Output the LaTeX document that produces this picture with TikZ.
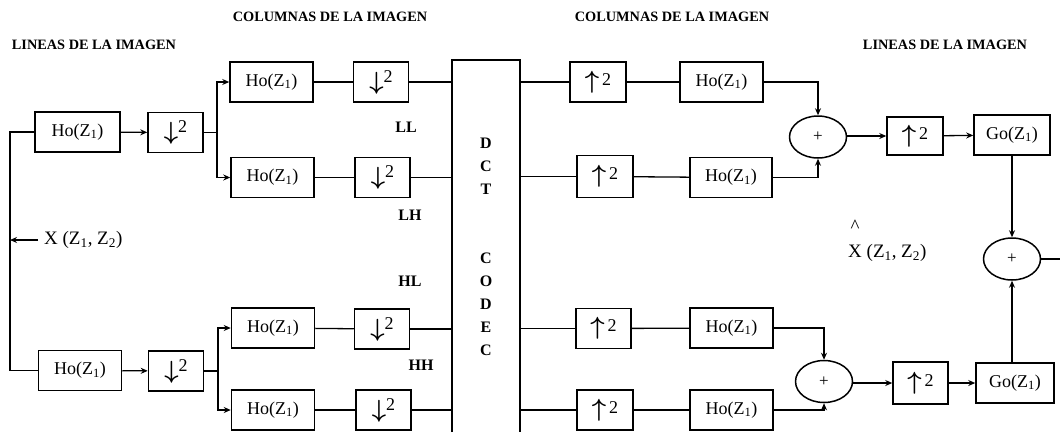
\documentclass[tikz,border=0pt]{standalone}
\usepackage{fontspec}
\setmainfont{Liberation Serif}
\usetikzlibrary{arrows.meta,shapes.geometric}
\newcommand\mydn{{\fontsize{26}{26}\selectfont\boldmath$\downarrow$}\raisebox{7pt}{2}}
\newcommand\myup{{\fontsize{26}{26}\selectfont\boldmath$\uparrow$}\,\raisebox{3pt}{2}}
\newcommand\hoz{Ho(Z\textsubscript{1})}
\newcommand\goz{Go(Z\textsubscript{1})}
\begin{document}
\begin{tikzpicture}[x=1pt,y=-1pt,
  >={Stealth[length=7pt,width=6pt]},
  blk/.style={draw,line width=1.5pt,minimum height=40pt,inner sep=0pt,
    font=\fontsize{18}{18}\selectfont},
  hob/.style={blk,minimum width=83pt},
  rsb/.style={blk,minimum width=55pt},
  sumc/.style={draw,ellipse,line width=1.5pt,minimum width=57pt,minimum height=42pt,
    inner sep=0pt,font=\fontsize{17}{17}\selectfont},
  conn/.style={line width=1.3pt},
  ttl/.style={font=\fontsize{14.3}{14.3}\selectfont\bfseries,inner sep=0pt},
  band/.style={font=\fontsize{16}{16}\selectfont\bfseries,inner sep=0pt},
  dctl/.style={font=\fontsize{16}{23}\selectfont\bfseries,align=center,inner sep=0pt},
  lbl/.style={font=\fontsize{19}{19}\selectfont,inner sep=0pt}
]
\path[use as bounding box] (0,0) rectangle (1060,432);

% titles
\node[ttl] (t1) at (94,45) {LINEAS DE LA IMAGEN};
\node[ttl] (t2) at (330,17) {COLUMNAS DE LA IMAGEN};
\node[ttl] (t3) at (672,17) {COLUMNAS DE LA IMAGEN};
\node[ttl] (t4) at (945,45) {LINEAS DE LA IMAGEN};

% left analysis: line filters
\node[hob,minimum width=85pt] (hoA) at (77.5,132) {\hoz};
\node[rsb] (dA) at (175.5,132.5) {\mydn};
\node[hob] (hoB) at (80,370.5) {\hoz};
\node[rsb] (dB) at (176,371) {\mydn};

\coordinate (lt) at (10,132);
\coordinate (lb) at (10,370.5);
\draw[conn] (hoA.west) -- (lt) -- (lb) -- (hoB.west);
\coordinate (xs) at (38,240);
\coordinate (xe) at (10,240);
\draw[conn,->] (xs) -- (xe);
\node[lbl,anchor=west] (xin) at (44,240) {X (Z\textsubscript{1}, Z\textsubscript{2})};

\draw[conn,->] (hoA) -- (dA);
\draw[conn,->] (hoB) -- (dB);

% column filters
\node[hob] (hoC) at (271.5,82) {\hoz};
\node[hob] (hoD) at (272.5,177.5) {\hoz};
\node[hob] (hoE) at (273,328) {\hoz};
\node[hob] (hoF) at (273,410) {\hoz};
\node[rsb] (dC) at (381,82) {\mydn};
\node[rsb] (dD) at (382.5,177.5) {\mydn};
\node[rsb] (dE) at (382,329) {\mydn};
\node[rsb] (dF) at (383.5,410) {\mydn};

\coordinate (bA) at (217,132.5);
\coordinate (bB) at (218,371);
\draw[conn] (dA.east) -- (bA);
\draw[conn,->] (bA) |- (hoC.west);
\draw[conn,->] (bA) |- (hoD.west);
\draw[conn] (dB.east) -- (bB);
\draw[conn,->] (bB) |- (hoE.west);
\draw[conn,->] (bB) |- (hoF.west);
\draw[conn] (hoC) -- (dC);
\draw[conn] (hoD) -- (dD);
\draw[conn] (hoE) -- (dE);
\draw[conn] (hoF) -- (dF);

% DCT codec
\node[minimum width=68pt,minimum height=372pt,inner sep=0pt] (dct) at (486,246) {};
\draw[line width=1.6pt] (dct.south west) -- (dct.north west) -- (dct.north east) -- (dct.south east);
\node[dctl] (dctt) at (486,166) {D\\C\\T};
\node[dctl] (codec) at (486,304) {C\\O\\D\\E\\C};

\draw[conn] (dC.east) -- (dC.east -| dct.west);
\draw[conn] (dD.east) -- (dD.east -| dct.west);
\draw[conn] (dE.east) -- (dE.east -| dct.west);
\draw[conn] (dF.east) -- (dF.east -| dct.west);

% band labels
\node[band] (ll) at (406,127) {LL};
\node[band] (lh) at (410,215) {LH};
\node[band] (hl) at (410,281) {HL};
\node[band] (hh) at (421,365) {HH};

% synthesis
\node[rsb,minimum width=56pt] (uA) at (598,82) {\myup};
\node[rsb,minimum width=56pt,minimum height=42pt] (uB) at (605,176.5) {\myup};
\node[rsb] (uC) at (603.5,328.5) {\myup};
\node[rsb,minimum width=56pt] (uD) at (605,410) {\myup};
\node[hob] (hoG) at (721.5,82) {\hoz};
\node[hob,minimum width=82pt] (hoH) at (731,177.5) {\hoz};
\node[hob] (hoI) at (731.5,328) {\hoz};
\node[hob] (hoJ) at (731.5,410) {\hoz};

\draw[conn] (dct.east |- uA) -- (uA);
\draw[conn] (dct.east |- uB) -- (uB);
\draw[conn] (dct.east |- uC) -- (uC);
\draw[conn] (dct.east |- uD) -- (uD);
\draw[conn] (uA) -- (hoG);
\draw[conn] (uB) -- (hoH);
\draw[conn] (uC) -- (hoI);
\draw[conn] (uD) -- (hoJ);

\node[sumc] (sA) at (818,137) {+};
\node[sumc] (sB) at (824,381.5) {+};
\draw[conn,->] (hoG.east) -| (sA.north);
\draw[conn,->] (hoH.east) -| (sA.south);
\draw[conn,->] (hoI.east) -| (sB.north);
\draw[conn,->] (hoJ.east) -| (sB.south);

\node[rsb,minimum width=56pt,minimum height=38pt] (uE) at (915,136) {\myup};
\node[rsb,minimum height=42pt] (uF) at (920.5,383) {\myup};
\node[blk,minimum width=76pt] (goA) at (1012,135) {\goz};
\node[blk,minimum width=78pt] (goB) at (1015,383) {\goz};
\draw[conn,->] (sA.east |- uE) -- (uE);
\draw[conn,->] (uE) -- (goA);
\draw[conn,->] (sB.east |- uF) -- (uF);
\draw[conn,->] (uF) -- (goB);

\node[sumc] (sC) at (1012,259) {+};
\draw[conn,->] (goA.south -| sC) -- (sC.north);
\draw[conn,->] (goB.north -| sC) -- (sC.south);
\coordinate (out) at (1060,259);
\draw[conn] (sC.east) -- (out);

\node[lbl] (hat) at (855,226) {\textasciicircum};
\node[lbl,anchor=west] (xout) at (848,253) {X (Z\textsubscript{1}, Z\textsubscript{2})};
\end{tikzpicture}
\end{document}
